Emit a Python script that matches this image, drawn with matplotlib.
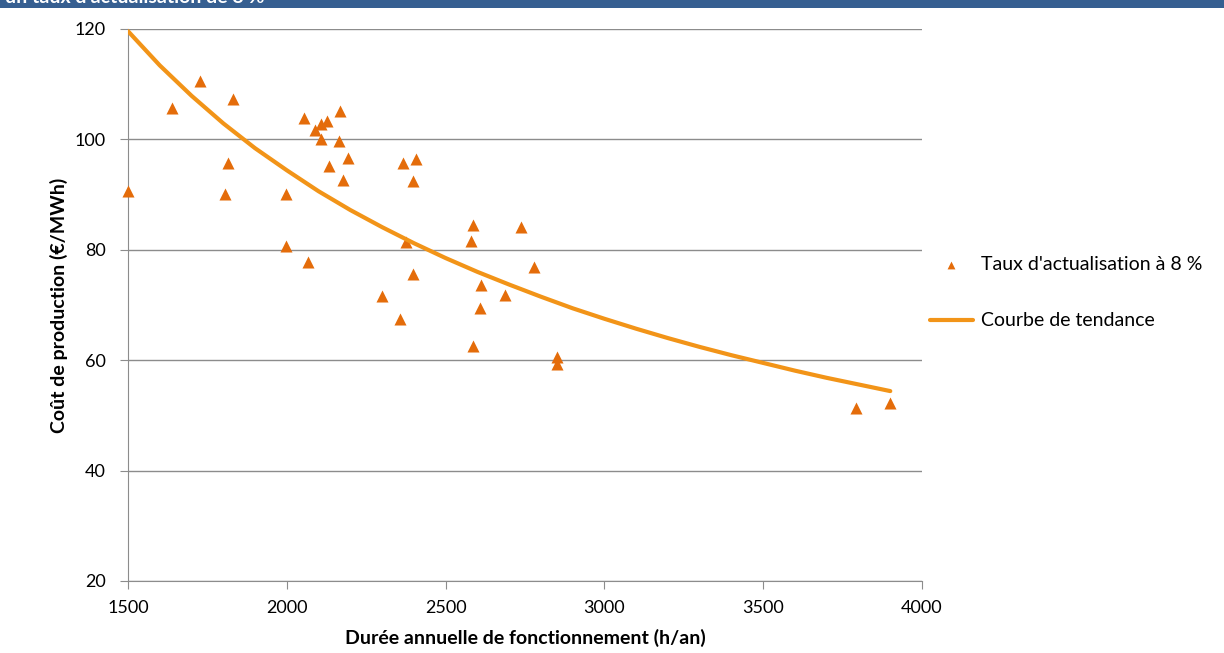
import matplotlib.pyplot as plt
from matplotlib.patches import Rectangle

# scatter points (h/an, EUR/MWh)
DUREE = [1500, 1637, 1727, 1831, 1815, 1805, 1998, 1998, 2068, 2053,
         2090, 2107, 2109, 2127, 2166, 2163, 2194, 2132, 2178, 2365,
         2407, 2396, 2376, 2396, 2301, 2357, 2585, 2581, 2736, 2778,
         2612, 2687, 2609, 2585, 2851, 2851, 3792, 3900]
COUT = [90.7, 105.6, 110.5, 107.3, 95.7, 90.1, 90.1, 80.7, 77.8, 103.8,
        101.7, 100.0, 102.8, 103.3, 105.2, 99.7, 96.7, 95.2, 92.7, 95.7,
        96.4, 92.5, 81.4, 75.6, 71.6, 67.4, 84.4, 81.6, 84.1, 76.8,
        73.6, 71.8, 69.4, 62.6, 60.6, 59.3, 51.3, 52.2]

# trend curve, every 100 h/an
TREND_X = [1500, 1600, 1700, 1800, 1900, 2000, 2100, 2200, 2300, 2400,
           2500, 2600, 2700, 2800, 2900, 3000, 3100, 3200, 3300, 3400,
           3500, 3600, 3700, 3800, 3900]
TREND_Y = [119.6, 113.4, 107.9, 102.9, 98.4, 94.4, 90.6, 87.2, 84.1, 81.2,
           78.5, 76.0, 73.7, 71.5, 69.4, 67.5, 65.7, 64.0, 62.4, 60.9,
           59.5, 58.1, 56.8, 55.6, 54.4]

X_TICKS = [1500, 2000, 2500, 3000, 3500, 4000]
Y_TICKS = [20, 40, 60, 80, 100, 120]

plt.rcParams['font.family'] = ['Lato', 'DejaVu Sans']

fig = plt.figure(figsize=(12.24, 6.53), dpi=100)
ax = fig.add_axes([0.1046, 0.1103, 0.6487, 0.8453])

# cut-off title banner at the top
fig.patches.append(Rectangle((0, 0.988), 1, 0.02, transform=fig.transFigure,
                             facecolor='#365F91', edgecolor='none'))
fig.text(0.004, 0.991, "un taux d'actualisation de 8 %", color='white',
         fontsize=14, fontweight='bold', va='bottom')

ax.scatter(DUREE, COUT, marker='^', s=75, color='#E46C0A', linewidths=0,
           label="Taux d'actualisation à 8 %", zorder=3, clip_on=False)
ax.plot(TREND_X, TREND_Y, color='#F29418', lw=3, solid_capstyle='round',
        solid_joinstyle='round', label='Courbe de tendance', zorder=4)

ax.set_xlim(1500, 4000)
ax.set_ylim(20, 120)
ax.set_xticks(X_TICKS)
ax.set_yticks(Y_TICKS)
ax.grid(axis='y', color='#8C8C8C', lw=1)
ax.set_axisbelow(True)
for s in ['top', 'right']:
    ax.spines[s].set_visible(False)
for s in ['left', 'bottom']:
    ax.spines[s].set_color('#8C8C8C')
ax.tick_params(axis='x', length=6, color='#8C8C8C', labelsize=13, pad=8)
ax.tick_params(axis='y', length=6, color='#8C8C8C', labelsize=13, pad=10)

ax.set_xlabel('Durée annuelle de fonctionnement (h/an)', fontsize=14,
              fontweight='bold', labelpad=9)
ax.set_ylabel('Coût de production (€/MWh)', fontsize=14,
              fontweight='bold', labelpad=5)

fig.legend(loc='center left', bbox_to_anchor=(0.7455, 0.552), frameon=False,
           fontsize=14, labelspacing=2.05, handlelength=2.2,
           handletextpad=0.4, markerscale=0.65)

fig.savefig('out.png', dpi=100)
